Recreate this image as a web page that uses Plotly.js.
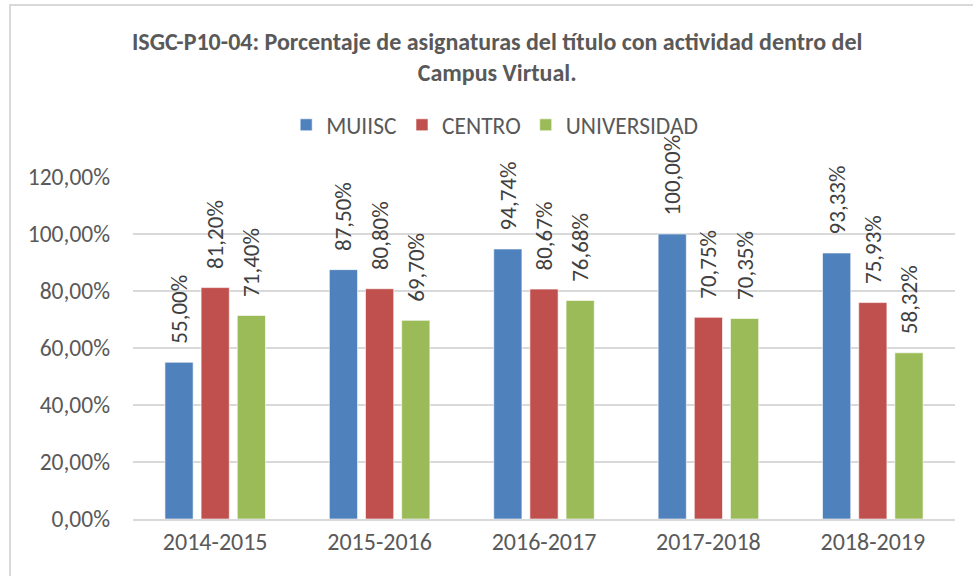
<!DOCTYPE html>
<html>
<head>
<meta charset="utf-8">
<script src="https://cdn.plot.ly/plotly-3.0.1.min.js"></script>
<style>
  html, body { margin: 0; padding: 0; background: #ffffff; }
  #frame { position: absolute; left: 9px; top: 4px; width: 1000px; height: 600px;
           border-left: 2px solid #d9d9d9; border-top: 2px solid #d9d9d9; }
  #chart { position: absolute; left: 0; top: 0; width: 973px; height: 576px; }
</style>
</head>
<body>
<div id="frame"></div>
<div id="chart"></div>
<script>
const categories = ['2014-2015', '2015-2016', '2016-2017', '2017-2018', '2018-2019'];
const muiisc = [0.5500, 0.8750, 0.9474, 1.0000, 0.9333];
const centro = [0.8120, 0.8080, 0.8067, 0.7075, 0.7593];
const universidad = [0.7140, 0.6970, 0.7668, 0.7035, 0.5832];
const seriesNames = ['MUIISC', 'CENTRO', 'UNIVERSIDAD'];
const seriesColors = ['#4f81bd', '#c0504d', '#9bbb59'];
const yTicks = [0, 0.2, 0.4, 0.6, 0.8, 1.0, 1.2];

const FONT = "Calibri, Carlito, 'Open Sans', sans-serif";
const values = [muiisc, centro, universidad];

const traces = values.map((v, i) => ({
  type: 'bar',
  name: seriesNames[i],
  x: categories,
  y: v,
  marker: { color: seriesColors[i], line: { color: 'rgba(255,255,255,0.6)', width: 1 } },
  texttemplate: '\u00a0\u00a0\u00a0%{y:.2%}',
  textposition: 'outside',
  textangle: -90,
  constraintext: 'none',
  cliponaxis: false,
  outsidetextfont: { family: FONT, size: 23, color: '#404040' },
  hoverinfo: 'skip'
}));

const layout = {
  width: 973, height: 576,
  paper_bgcolor: 'rgba(0,0,0,0)',
  plot_bgcolor: 'rgba(0,0,0,0)',
  separators: ',.',
  margin: { l: 133, r: 18, t: 177, b: 57 },
  font: { family: FONT, color: '#595959', size: 23 },
  title: {
    text: '<b>ISGC-P10-04: Porcentaje de asignaturas del título con actividad dentro del<br>Campus Virtual.</b>',
    x: 0.511, xanchor: 'center', yref: 'container', y: 0.914, yanchor: 'top',
    font: { family: FONT, size: 24, color: '#595959' }
  },
  showlegend: true,
  legend: {
    orientation: 'h', x: 0.44, xanchor: 'center', y: 1.152, yanchor: 'middle',
    font: { family: FONT, size: 23.5, color: '#595959' },
    itemwidth: 30, traceorder: 'normal'
  },
  bargap: 0.34,
  bargroupgap: 0.22,
  xaxis: {
    type: 'category',
    showline: true, linecolor: '#d9d9d9', linewidth: 2,
    ticks: '', tickfont: { family: FONT, size: 24, color: '#595959' },
    fixedrange: true
  },
  yaxis: {
    range: [0, 1.2],
    tickvals: yTicks,
    tickformat: '.2%',
    showgrid: true, gridcolor: '#d9d9d9', gridwidth: 2,
    zeroline: false, showline: false, ticks: '',
    ticklabelstandoff: 22,
    tickfont: { family: FONT, size: 23.5, color: '#595959' },
    fixedrange: true
  }
};

Plotly.newPlot('chart', traces, layout, { staticPlot: true, displayModeBar: false });
</script>
</body>
</html>
